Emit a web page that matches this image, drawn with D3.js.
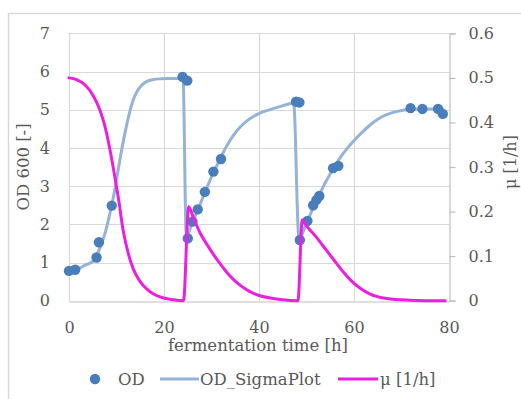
<!DOCTYPE html>
<html>
<head>
<meta charset="utf-8">
<script src="https://cdn.jsdelivr.net/npm/d3@7"></script>
<style>
  html, body { margin: 0; padding: 0; background: #fff; }
  svg { display: block; }
  text { font-family: "DejaVu Serif", serif; fill: #595959; }
</style>
</head>
<body>
<svg id="chart" width="521" height="399"></svg>
<script>
// Measured optical density (OD 600) samples
const odTime  = [0, 1.3, 5.8, 6.3, 9.0, 23.9, 24.9, 25.0, 26.0, 27.1, 28.6, 30.4, 32.0,
                 47.8, 48.5, 48.6, 50.2, 51.4, 52.1, 52.7, 55.6, 56.7, 71.9, 74.4, 77.7, 78.7];
const odValue = [0.78, 0.81, 1.13, 1.53, 2.49, 5.86, 5.76, 1.63, 2.07, 2.39, 2.85, 3.38, 3.71,
                 5.21, 5.19, 1.59, 2.09, 2.50, 2.64, 2.74, 3.47, 3.53, 5.04, 5.02, 5.02, 4.89];

// SigmaPlot logistic fit of OD (three feeding cycles)
const fitTime  = [0, 2, 3.4, 5, 5.5, 6.5, 7.6, 8.6, 9.3, 9.7, 10.7, 11.8, 12.8, 13.5, 14.3, 15.3, 16.4, 17.8, 19.4, 21, 24.0,
                  24.7, 26, 27.1, 28.6, 30.4, 32, 33.2, 34.6, 36, 37.4, 38.8, 40.2, 42, 44.4, 47.3,
                  48.4, 50.2, 51.4, 52.7, 54, 55.6, 56.7, 57.7, 59, 60.2, 61.8, 63.4, 65, 66.5, 68.3, 70, 72, 75, 78.7];
const fitValue = [0.75, 0.84, 0.93, 1.03, 1.10, 1.38, 1.77, 2.28, 2.68, 2.95, 3.68, 4.40, 4.95, 5.25, 5.47, 5.64, 5.74, 5.79, 5.81, 5.82, 5.82,
                  1.68, 2.05, 2.37, 2.83, 3.35, 3.76, 4.05, 4.33, 4.54, 4.70, 4.82, 4.91, 4.99, 5.08, 5.17,
                  1.65, 2.09, 2.43, 2.77, 3.10, 3.45, 3.67, 3.85, 4.05, 4.22, 4.42, 4.60, 4.75, 4.85, 4.93, 4.98, 5.01, 5.02, 5.02];

// Specific growth rate mu [1/h]
const muTime  = [0, 1.6, 3.4, 5.1, 6.5, 7.6, 8.6, 9.7, 10.4, 11.4, 12.5, 13.5, 14.9, 16.4, 17.8, 19.9, 22, 24.1,
                 25.2, 26.2, 27.6, 29, 30.4, 31.8, 33.2, 34.6, 36, 38, 40.2, 43, 45, 48.2,
                 49.1, 50, 52.1, 54.2, 56, 57.7, 59.5, 61.3, 63.4, 66.9, 71.8, 75, 79.2];
const muValue = [0.500, 0.496, 0.484, 0.460, 0.428, 0.390, 0.340, 0.275, 0.230, 0.158, 0.105, 0.072, 0.044, 0.026, 0.015, 0.006, 0.002, 0.000,
                 0.211, 0.186, 0.152, 0.127, 0.104, 0.083, 0.064, 0.048, 0.035, 0.021, 0.011, 0.005, 0.002, 0.000,
                 0.181, 0.168, 0.142, 0.113, 0.088, 0.065, 0.044, 0.028, 0.015, 0.005, 0.001, 0.000, 0.000];

const xTicks  = [0, 20, 40, 60, 80];
const yTicks  = [0, 1, 2, 3, 4, 5, 6, 7];
const y2Ticks = [0, 0.1, 0.2, 0.3, 0.4, 0.5, 0.6];
const legendLabels = ["OD", "OD_SigmaPlot", "\u03bc [1/h]"];

const colDot = "#4a7ebb", colFit = "#95b3d7", colMu = "#ec1fe0";
const gridCol = "#d9d9d9", axisCol = "#bfbfbf";

const svg = d3.select("#chart");
const plot = { left: 69, right: 449, top: 33.3, bottom: 300.7 };

const x  = d3.scaleLinear().domain([0, 80]).range([plot.left, plot.right]);
const y  = d3.scaleLinear().domain([0, 7]).range([plot.bottom, plot.top]);
const y2 = d3.scaleLinear().domain([0, 0.6]).range([plot.bottom, plot.top]);

// chart frame
svg.append("rect")
  .attr("x", 8.5).attr("y", 13.5).attr("width", 530).attr("height", 400)
  .attr("fill", "none").attr("stroke", gridCol).attr("stroke-width", 1.5);

// gridlines
const g = svg.append("g");
g.selectAll(".hg").data(yTicks.filter(d => d > 0)).join("line")
  .attr("x1", plot.left).attr("x2", plot.right)
  .attr("y1", d => Math.round(y(d)) + 0.5).attr("y2", d => Math.round(y(d)) + 0.5)
  .attr("stroke", gridCol).attr("stroke-width", 1.2);
g.selectAll(".vg").data(xTicks.filter(d => d < 80)).join("line")
  .attr("y1", plot.top).attr("y2", plot.bottom)
  .attr("x1", d => Math.round(x(d)) + 0.5).attr("x2", d => Math.round(x(d)) + 0.5)
  .attr("stroke", gridCol).attr("stroke-width", 1.2);

// bottom axis
const xAxis = svg.append("g")
  .attr("transform", `translate(0,${Math.round(plot.bottom) + 0.5})`)
  .call(d3.axisBottom(x).tickValues(xTicks).tickSize(0).tickPadding(20).tickFormat(d3.format("d")));
xAxis.select(".domain").attr("stroke", axisCol).attr("stroke-width", 1.2);
xAxis.selectAll("text").attr("font-size", 16).attr("fill", "#595959").attr("font-family", "DejaVu Serif");

// left axis
const yAxis = svg.append("g")
  .attr("transform", `translate(${plot.left},0)`)
  .call(d3.axisLeft(y).tickValues(yTicks).tickSize(0).tickPadding(19).tickFormat(d3.format("d")));
yAxis.select(".domain").remove();
yAxis.selectAll("text").attr("font-size", 16).attr("fill", "#595959").attr("font-family", "DejaVu Serif");

// right axis
const y2Axis = svg.append("g")
  .attr("transform", `translate(${Math.round(plot.right) + 0.5},0)`)
  .call(d3.axisRight(y2).tickValues(y2Ticks).tickSize(6).tickPadding(13).tickFormat(d => d === 0 ? "0" : d3.format(".1f")(d)));
y2Axis.select(".domain").attr("stroke", axisCol).attr("stroke-width", 1.2);
y2Axis.selectAll("line").attr("stroke", axisCol).attr("stroke-width", 1.2);
y2Axis.selectAll("text").attr("font-size", 16).attr("fill", "#595959").attr("font-family", "DejaVu Serif");

// axis titles
svg.append("text").attr("x", 258).attr("y", 351).attr("text-anchor", "middle")
  .attr("font-size", 16.5).text("fermentation time [h]");
svg.append("text").attr("transform", "translate(29,167) rotate(-90)").attr("text-anchor", "middle")
  .attr("font-size", 16.5).text("OD 600 [-]");
svg.append("text").attr("transform", "translate(516,162) rotate(-90)").attr("text-anchor", "middle")
  .attr("font-size", 16).text("\u03bc [1/h]");

// series
const fitData = fitTime.map((t, i) => [t, fitValue[i]]);
const muData  = muTime.map((t, i) => [t, muValue[i]]);
const odData  = odTime.map((t, i) => [t, odValue[i]]);

svg.append("path").datum(fitData)
  .attr("fill", "none").attr("stroke", colFit).attr("stroke-width", 3)
  .attr("stroke-linejoin", "round").attr("stroke-linecap", "round")
  .attr("d", d3.line().x(d => x(d[0])).y(d => y(d[1])).curve(d3.curveMonotoneX));

svg.append("g").selectAll("circle").data(odData).join("circle")
  .attr("cx", d => x(d[0])).attr("cy", d => y(d[1])).attr("r", 5.2)
  .attr("fill", colDot);

svg.append("path").datum(muData)
  .attr("fill", "none").attr("stroke", colMu).attr("stroke-width", 3)
  .attr("stroke-linejoin", "round").attr("stroke-linecap", "round")
  .attr("d", d3.line().x(d => x(d[0])).y(d => y2(d[1])).curve(d3.curveMonotoneX));

// legend
const lg = svg.append("g").attr("font-size", 16.5);
const ly = 379;
lg.append("circle").attr("cx", 95).attr("cy", ly).attr("r", 5.2).attr("fill", colDot);
lg.append("text").attr("x", 118).attr("y", ly + 6).text(legendLabels[0]);
lg.append("line").attr("x1", 160).attr("x2", 199).attr("y1", ly).attr("y2", ly)
  .attr("stroke", colFit).attr("stroke-width", 3);
lg.append("text").attr("x", 200).attr("y", ly + 6).text(legendLabels[1]);
lg.append("line").attr("x1", 338).attr("x2", 378).attr("y1", ly).attr("y2", ly)
  .attr("stroke", colMu).attr("stroke-width", 3);
lg.append("text").attr("x", 380).attr("y", ly + 6).text(legendLabels[2]);
</script>
</body>
</html>
